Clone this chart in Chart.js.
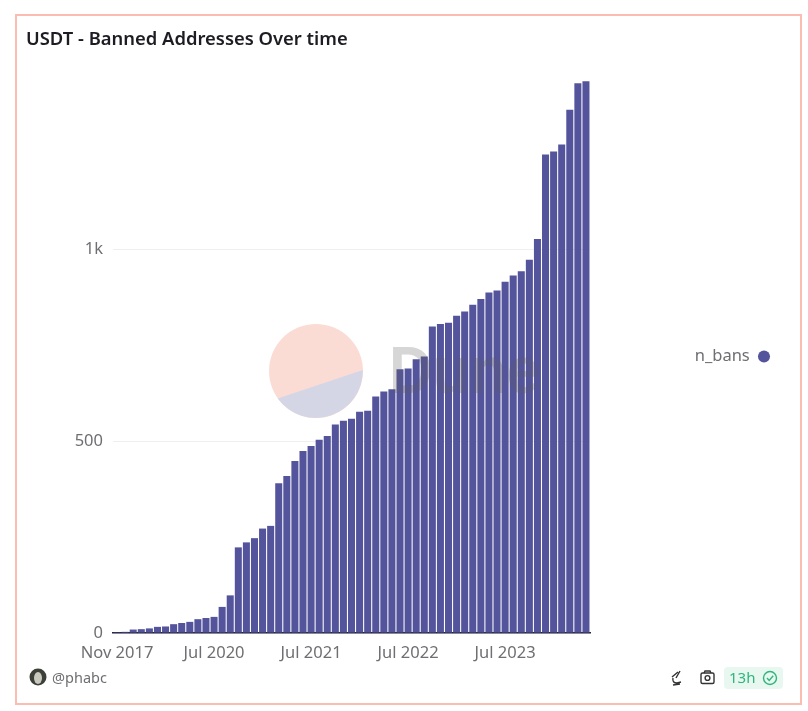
<!DOCTYPE html>
<html>
<head>
<meta charset="utf-8">
<title>USDT - Banned Addresses Over time</title>
<script src="https://cdn.jsdelivr.net/npm/chart.js@4"></script>
<style>
html, body { margin: 0; padding: 0; background: #fff; width: 808px; height: 711px; overflow: hidden; }
#frame { position: absolute; left: 15px; top: 14px; width: 783px; height: 687px; border: 2px solid #fbbdb2; }
#chartBox { position: absolute; left: 0; top: 0; width: 808px; height: 711px; }
svg { position: absolute; left: 0; top: 0; pointer-events: none; }
</style>
</head>
<body>
<div id="frame"></div>
<div id="chartBox"><canvas id="bans"></canvas></div>
<svg width="808" height="711" viewBox="0 0 808 711" font-family="'Noto Sans', sans-serif">
  <!-- dune watermark -->
  <circle cx="316" cy="371" r="47" fill="#fbdcd5"/>
  <path d="M277.7 398.4 L362.8 370 A47 47 0 0 1 277.7 398.4 Z" fill="#d5d6e5"/>
  <text x="389" y="393" font-family="'Liberation Sans', sans-serif" font-size="66" font-weight="700" fill="#5a5a5a" fill-opacity="0.25" textLength="151" lengthAdjust="spacingAndGlyphs">Dune</text>
  <!-- footer -->
  <circle cx="38" cy="677" r="8.5" fill="#3c4038"/>
  <ellipse cx="38" cy="678" rx="4" ry="6" fill="#c9c9c0"/>
  <text x="52" y="683" font-size="14.5" fill="#6f6f73">@phabc</text>
  <g fill="none" stroke="#333" stroke-width="1.4">
    <path d="M680 671 L676 678 M672 677 L678 672 M673 678 Q672 683 677 683 L681 682 M673 685 L680 684"/>
    <rect x="701" y="673" width="13" height="10.5" rx="1.5"/>
    <circle cx="707.5" cy="678" r="2.4"/>
    <path d="M704 673 L705 671 L710 671 L711 673"/>
  </g>
  <rect x="724" y="667" width="59" height="22" rx="4" fill="#e8f8f0"/>
  <text x="729" y="683" font-size="15" fill="#2fb67c">13h</text>
  <g fill="none" stroke="#2fb67c" stroke-width="1.4">
    <circle cx="770" cy="678" r="6.5"/>
    <path d="M767 678 L769.2 680.4 L773.2 675.8"/>
  </g>
</svg>
<script>
const categories = ['Nov 2017', 'Aug 2019', 'Sep 2019', 'Oct 2019', 'Nov 2019', 'Dec 2019', 'Jan 2020', 'Feb 2020', 'Mar 2020', 'Apr 2020',
    'May 2020', 'Jun 2020', 'Jul 2020', 'Aug 2020', 'Sep 2020', 'Oct 2020', 'Nov 2020', 'Dec 2020', 'Jan 2021', 'Feb 2021',
    'Mar 2021', 'Apr 2021', 'May 2021', 'Jun 2021', 'Jul 2021', 'Aug 2021', 'Sep 2021', 'Oct 2021', 'Nov 2021', 'Dec 2021',
    'Jan 2022', 'Feb 2022', 'Mar 2022', 'Apr 2022', 'May 2022', 'Jun 2022', 'Jul 2022', 'Aug 2022', 'Sep 2022', 'Oct 2022',
    'Nov 2022', 'Dec 2022', 'Jan 2023', 'Feb 2023', 'Mar 2023', 'Apr 2023', 'May 2023', 'Jun 2023', 'Jul 2023', 'Aug 2023',
    'Sep 2023', 'Oct 2023', 'Nov 2023', 'Dec 2023', 'Jan 2024', 'Feb 2024', 'Mar 2024', 'Apr 2024', 'May 2024']
const nBans = [2, 3, 9, 10, 12, 16, 17, 23, 26, 29,
    36, 39, 42, 68, 98, 223, 236, 247, 272, 279,
    390, 409, 448, 474, 487, 503, 513, 543, 553, 558,
    576, 579, 616, 629, 635, 687, 689, 713, 720, 798,
    805, 808, 826, 837, 855, 870, 887, 892, 915, 931,
    942, 972, 1026, 1246, 1254, 1272, 1363, 1432, 1437]
const xTickLabels = ['Nov 2017', 'Jul 2020', 'Jul 2021', 'Jul 2022', 'Jul 2023']
const yTickValues = [0, 500, 1000]
const yTickLabels = ['0', '500', '1k']

const tickFont = { family: "'Noto Sans', sans-serif", size: 16.5 }

// legend sits well right of the bars, so its box is wider than the text
const legendGap = {
    id: 'legendGap',
    beforeLayout(chart) {
        const legend = chart.legend
        const fit = Object.getPrototypeOf(legend).fit
        legend.fit = function () {
            fit.call(this)
            this.width = 190
        }
    }
}

const bansChart = new Chart(document.getElementById('bans'), {
    type: 'bar',
    data: {
        labels: categories,
        datasets: [{
            label: 'n_bans',
            data: nBans,
            backgroundColor: '#54549c',
            borderWidth: 0,
            categoryPercentage: 1,
            barPercentage: 0.87
        }]
    },
    plugins: [legendGap],
    options: {
        responsive: true,
        maintainAspectRatio: false,
        animation: false,
        layout: { padding: { left: 26, right: 28, top: 0, bottom: 48 } },
        plugins: {
            title: {
                display: true,
                text: 'USDT - Banned Addresses Over time',
                align: 'start',
                color: '#1c1c22',
                font: { family: "'Noto Sans', sans-serif", size: 18.4, weight: '600' },
                padding: { top: 29, bottom: 29 }
            },
            legend: {
                position: 'right',
                fullSize: false,
                rtl: true,
                labels: {
                    usePointStyle: true,
                    pointStyle: 'circle',
                    boxWidth: 12,
                    boxHeight: 8.5,
                    padding: 10,
                    color: '#6f6f73',
                    font: tickFont
                }
            },
            tooltip: { enabled: false }
        },
        scales: {
            x: {
                grid: { display: false },
                border: { color: '#23233f', width: 1.5 },
                afterFit: scale => { scale.height = 30 },
                ticks: {
                    autoSkip: false,
                    minRotation: 0,
                    maxRotation: 0,
                    padding: 2,
                    color: '#6f6f73',
                    font: tickFont,
                    callback: function (value) {
                        const label = this.getLabelForValue(value)
                        return xTickLabels.includes(label) ? label : ''
                    }
                }
            },
            y: {
                min: 0,
                max: 1440,
                border: { display: false },
                grid: { color: '#efeff1', drawTicks: false },
                afterFit: scale => { scale.width = 87 },
                afterBuildTicks: scale => { scale.ticks = yTickValues.map(v => ({ value: v })) },
                ticks: {
                    padding: 10,
                    color: '#6f6f73',
                    font: tickFont,
                    callback: value => yTickLabels[yTickValues.indexOf(value)]
                }
            }
        }
    }
})
</script>
</body>
</html>
